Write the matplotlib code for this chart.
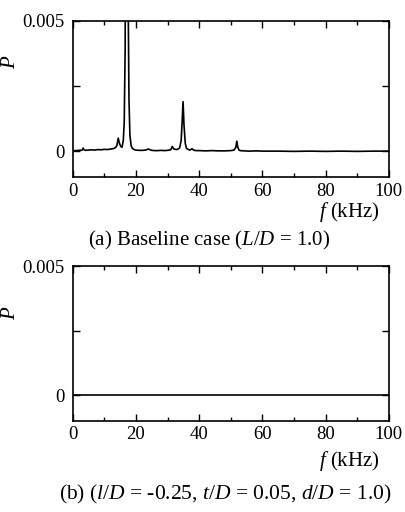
import matplotlib
matplotlib.use('Agg')
from matplotlib import pyplot as plt

plt.rcParams['font.family'] = ['Liberation Serif', 'DejaVu Serif']
plt.rcParams['mathtext.fontset'] = 'custom'
plt.rcParams['mathtext.rm'] = 'Liberation Serif'
plt.rcParams['mathtext.it'] = 'Liberation Serif:italic'

# (a) baseline case spectrum (peak at ~17 kHz is clipped)
freq_a = [0, 1, 2, 3, 3.3, 3.6, 4, 5, 6, 7, 8, 9, 10, 11, 12, 13, 13.6, 14.0,
          14.4, 14.8, 15.2, 15.6, 16.0, 16.3, 16.6, 16.8, 17.3, 17.6, 17.8,
          18.1, 18.5, 18.9, 19.4, 20, 21, 22, 23, 24, 24.5, 25, 26, 27, 28,
          29, 30, 31, 31.5, 32, 33, 33.8, 34.3, 34.6, 34.9, 35.2, 35.6, 36,
          37, 37.8, 38.2, 39, 40, 42, 44, 46, 48, 50, 51, 51.6, 51.9, 52.2,
          52.6, 53, 54, 56, 58, 60, 65, 70, 75, 80, 85, 90, 95, 100]
power_a = [0.00002, 0.00002, 0.00003, 0.00004, 0.00012, 0.00005, 0.00003,
           0.00004, 0.00005, 0.00004, 0.00006, 0.00005, 0.00007, 0.00006,
           0.00008, 0.00010, 0.00014, 0.00022, 0.00050, 0.00030, 0.00018,
           0.00015, 0.00040, 0.00110, 0.00400, 0.02000, 0.02000, 0.00500,
           0.00200, 0.00060, 0.00020, 0.00010, 0.00006, 0.00004, 0.00003,
           0.00003, 0.00004, 0.00008, 0.00005, 0.00003, 0.00002, 0.00002,
           0.00003, 0.00002, 0.00003, 0.00005, 0.00018, 0.00008, 0.00006,
           0.00012, 0.00040, 0.00110, 0.00190, 0.00100, 0.00030, 0.00010,
           0.00004, 0.00009, 0.00004, 0.00002, 0.00002, 0.00001, 0.00002,
           0.00001, 0.00001, 0.00002, 0.00004, 0.00015, 0.00038, 0.00015,
           0.00004, 0.00002, 0.00001, 0.00000, 0.00001, 0.00000, 0.00000,
           -0.00001, 0.00000, -0.00001, 0.00000, -0.00001, 0.00000, 0.00000]

# (b) controlled case: flat spectrum
freq_b = [0, 20, 40, 60, 80, 100]
power_b = [0.0, 0.0, 0.0, 0.0, 0.0, 0.0]

ytick_vals = [0, 0.0025, 0.005]
ytick_labels = ['0', '', '0.005']
xtick_vals = [0, 20, 40, 60, 80, 100]

fig = plt.figure(figsize=(4.06, 5.12), dpi=100)
ax_a = fig.add_axes([0.179, 0.654, 0.779, 0.305])
ax_b = fig.add_axes([0.179, 0.178, 0.779, 0.302])

ax_a.plot(freq_a, power_a, color='black', lw=1.2)
ax_b.plot(freq_b, power_b, color='black', lw=1.2)

for ax, ylab_y, xlab_y in [(ax_a, 0.74, -0.225), (ax_b, 0.70, -0.26)]:
    ax.set_xlim(0, 100)
    ax.set_ylim(-0.001, 0.005)
    ax.set_xticks(xtick_vals)
    ax.set_xticks(range(10, 100, 20), minor=True)
    ax.set_yticks(ytick_vals)
    ax.set_yticklabels(ytick_labels)
    ax.tick_params(which='both', direction='in', top=True, right=True,
                   labelsize=13.5, width=1.0)
    ax.tick_params(which='major', length=5)
    ax.tick_params(which='minor', length=3)
    ax.tick_params(axis='x', pad=4)
    ax.tick_params(axis='y', pad=6)
    for sp in ax.spines.values():
        sp.set_linewidth(1.2)
    ax.set_ylabel('$P$', fontsize=15)
    ax.yaxis.set_label_coords(-0.165, ylab_y)
    ax.text(0.972, xlab_y, '$f$ (kHz)', transform=ax.transAxes,
            ha='right', va='center', fontsize=15)

fig.text(0.515, 1 - 240 / 512, '(a) Baseline case ($L/D$ = 1.0)',
         ha='center', va='center', fontsize=15)
fig.text(0.554, 1 - 494 / 512, '(b) ($l/D$ = -0.25, $t/D$ = 0.05, $d/D$ = 1.0)',
         ha='center', va='center', fontsize=15.5)

plt.savefig('out.png', dpi=100)
plt.close()
